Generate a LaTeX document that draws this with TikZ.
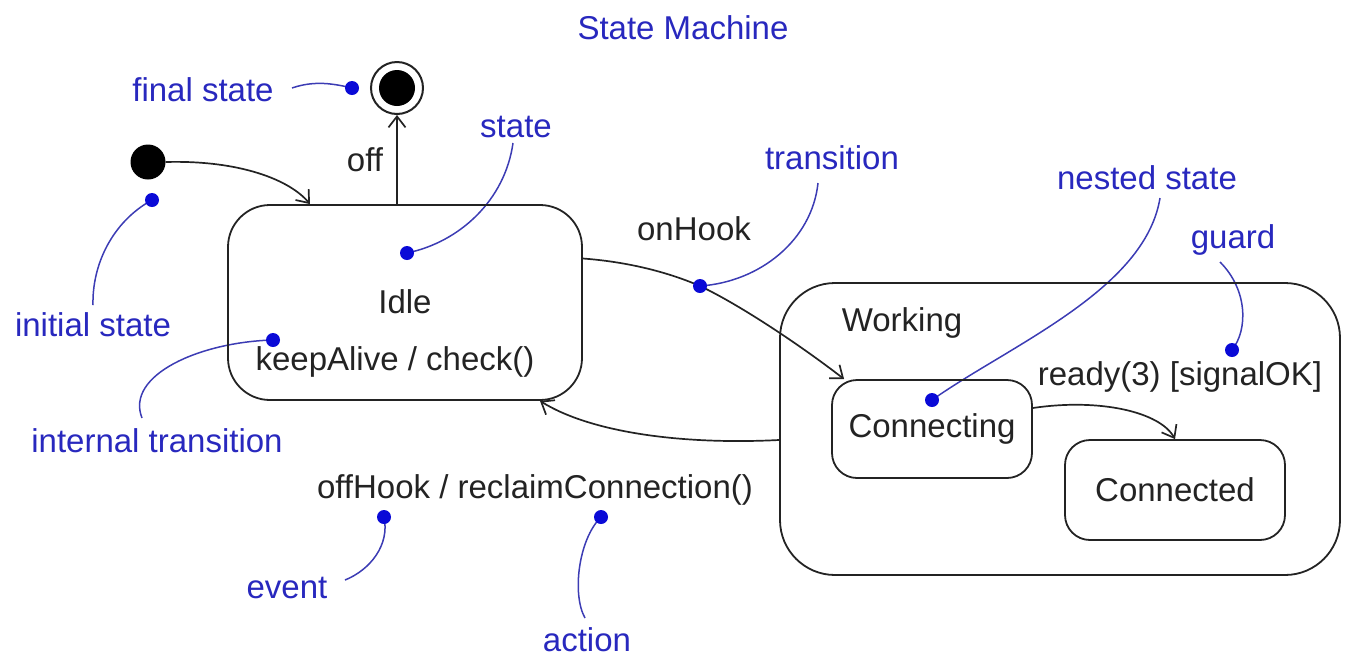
\documentclass[tikz,border=0pt]{standalone}
\usepackage{fontspec}
\setmainfont{Liberation Sans}
\usetikzlibrary{arrows.meta,calc}
\definecolor{lblue}{RGB}{40,40,190}
\definecolor{dblue}{RGB}{10,10,215}
\definecolor{cblue}{RGB}{60,60,180}
\definecolor{ink}{RGB}{35,35,35}
\pgfdeclarelayer{back}
\pgfsetlayers{back,main}
\begin{document}
\begin{tikzpicture}[x=1pt,y=-1pt,
  every node/.style={font=\fontsize{33}{40}\selectfont, text=ink},
  statebox/.style={draw=ink, line width=1.8pt},
  tr/.style={draw=ink, line width=1.7pt, -{Straight Barb[length=11pt,width=17pt,line width=1.7pt]}},
  co/.style={draw=cblue, line width=1.5pt},
  dot/.style={circle, fill=dblue, inner sep=0pt, minimum size=14pt},
  lbl/.style={text=lblue}]
\useasboundingbox (0,0) rectangle (1347,657);

% states
\node[circle, draw=ink, line width=2pt, minimum size=52pt, inner sep=0pt] (final) at (397,88) {};
\node[circle, fill=black, minimum size=36pt, inner sep=0pt] (finalin) at (397,88) {};
\node[circle, fill=black, minimum size=35pt, inner sep=0pt] (init) at (148,162) {};
\node[statebox, rounded corners=42pt, minimum width=354pt, minimum height=195pt] (idle) at (405,302.5) {};
\node (idletxt) at (405,302) {Idle};
\node (keep) at (395,362) {keepAlive / check()};
\node[statebox, rounded corners=55pt, minimum width=560pt, minimum height=292pt] (working) at (1060,429) {};
\node (worktxt) at (902,323) {Working};
\node[statebox, rounded corners=25pt, minimum width=200pt, minimum height=98pt] (connecting) at (932,429) {Connecting};
\node[statebox, rounded corners=25pt, minimum width=220pt, minimum height=100pt] (connected) at (1175,490) {Connected};

% transition labels
\node (off) at (365,160) {off};
\node (onhook) at (694,229) {onHook};
\node (ready) at (1180,377) {ready(3) [signalOK]};
\node (offhook) at (535,490) {offHook / reclaimConnection()};

% blue annotations
\node[lbl] (title) at (683,28) {State Machine};
\node[lbl] (lfinal) at (203,90) {final state};
\node[lbl] (lstate) at (516,127) {state};
\node[lbl] (linit) at (93,325) {initial state};
\node[lbl] (lint) at (157,441) {internal transition};
\node[lbl] (ltrans) at (832,158) {transition};
\node[lbl] (lnest) at (1147,178) {nested state};
\node[lbl] (lguard) at (1233,240) {guard};
\node[lbl] (levent) at (287,588) {event};
\node[lbl] (laction) at (587,640) {action};

% dots
\node[dot] (dfinal) at (352,88) {};
\node[dot] (dstate) at (407,253) {};
\node[dot] (dinit) at (152,200) {};
\node[dot] (dint) at (273,340) {};
\node[dot] (dtrans) at (700,286) {};
\node[dot] (dnest) at (932,400) {};
\node[dot] (dguard) at (1232,350) {};
\node[dot] (devent) at (384,517) {};
\node[dot] (daction) at (601,517) {};

% callout ends
\coordinate (cfinal) at (292,88);
\coordinate (cstate) at (513,143);
\coordinate (cinit) at (93,305);
\coordinate (cint) at (142,418);
\coordinate (ctrans) at (818,183);
\coordinate (cnest) at (1160,198);
\coordinate (cguard) at (1220,262);
\coordinate (cevent) at (345,580);
\coordinate (caction) at (585,618);

\begin{pgfonlayer}{back}
% transitions
\draw[tr] (init.east) .. controls (240,160) and (290,180) .. ([xshift=-95pt]idle.north);
\draw[tr] ([xshift=-8pt]idle.north) -- (final);
\draw[tr] ([yshift=44pt]idle.east) .. controls (630,262) and (670,273) .. (dtrans.center)
          .. controls (740,305) and (800,345) .. ([xshift=13pt]connecting.north west);
\draw[tr] ([yshift=21pt]connecting.east) .. controls (1100,398) and (1160,412) .. (connected.north);
\draw[tr] ([yshift=-11pt]working.west) .. controls (680,445) and (590,432) .. ([xshift=135pt]idle.south);
% callouts
\draw[co] (cfinal) .. controls (315,80) and (335,84) .. (dfinal.center);
\draw[co] (cstate) .. controls (505,200) and (460,242) .. (dstate.center);
\draw[co] (cinit) .. controls (92,265) and (112,222) .. (dinit.center);
\draw[co] (cint) .. controls (125,375) and (200,342) .. (dint.center);
\draw[co] (ctrans) .. controls (812,240) and (760,282) .. (dtrans.center);
\draw[co] (cnest) .. controls (1145,290) and (1010,345) .. (dnest.center);
\draw[co] (cguard) .. controls (1248,290) and (1248,330) .. (dguard.center);
\draw[co] (cevent) .. controls (370,570) and (390,545) .. (devent.center);
\draw[co] (caction) .. controls (572,595) and (578,540) .. (daction.center);
\end{pgfonlayer}
\end{tikzpicture}
\end{document}
